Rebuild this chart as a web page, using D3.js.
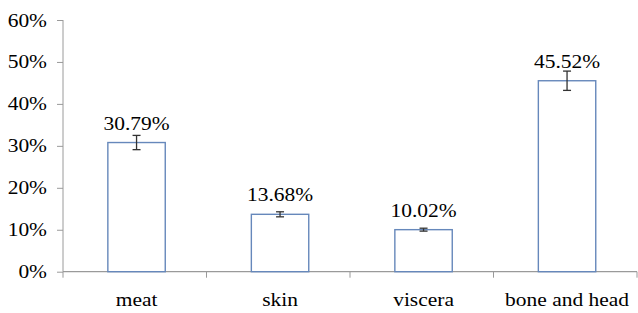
<!DOCTYPE html>
<html>
<head>
<meta charset="utf-8">
<script src="https://cdn.jsdelivr.net/npm/d3@7"></script>
<style>
  body { margin: 0; background: #fff; }
  svg { display: block; }
</style>
</head>
<body>
<svg id="chart"></svg>
<script>
'use strict';

// data
var categories = ['meat', 'skin', 'viscera', 'bone and head'];
var values     = [30.79, 13.68, 10.02, 45.52];
var errors     = [1.7, 0.6, 0.35, 2.3];
var yTicks     = [0, 10, 20, 30, 40, 50, 60];

// chart size
var W = 638, H = 313;
var margin = { top: 20, right: 1, bottom: 41.3, left: 63 };
var width  = W - margin.left - margin.right;
var height = H - margin.top - margin.bottom;
var sx = 1.13; // text is a little stretched sideways
var serif = "'Liberation Serif', 'Times New Roman', Times, serif";

var svg = d3.select('#chart')
  .attr('width', W)
  .attr('height', H)
  .append('g')
  .attr('transform', 'translate(' + margin.left + ',' + margin.top + ')');

// bars sit a touch right of the band centre in the original
var x = d3.scaleBand().domain(categories).range([1.8, width + 1.8]).paddingInner(0.6).paddingOuter(0.3);
var y = d3.scaleLinear().domain([0, 60]).range([height, 0]);

var axisColor = '#9a9a9a';

function label(sel){
  return sel.style('font-family', serif).style('font-size', '19px').attr('fill', '#000');
}

// y axis
var yAxis = svg.append('g')
  .call(d3.axisLeft(y).tickValues(yTicks).tickSize(6).tickPadding(0).tickFormat(function(d){ return ''; }));
yAxis.selectAll('path, line').attr('stroke', axisColor);
yAxis.select('.domain').attr('d', 'M0,0V' + height);
yTicks.forEach(function(t){
  svg.append('text')
    .attr('transform', 'translate(-16,' + (y(t) + 6.5) + ') scale(' + sx + ',1)')
    .attr('text-anchor', 'end')
    .call(label)
    .text(t + '%');
});

// x axis with ticks between categories
var step = width / categories.length;
var xg = svg.append('g').attr('transform', 'translate(0,' + height + ')');
xg.append('line').attr('x1', 0).attr('x2', width).attr('stroke', axisColor).attr('stroke-width', 1.3);
d3.range(categories.length + 1).forEach(function(i){
  xg.append('line')
    .attr('x1', i * step).attr('x2', i * step)
    .attr('y1', 0).attr('y2', 6)
    .attr('stroke', axisColor);
});
categories.forEach(function(c){
  xg.append('text')
    .attr('transform', 'translate(' + (x(c) + x.bandwidth() / 2) + ',34.5) scale(' + sx + ',1)')
    .attr('text-anchor', 'middle')
    .call(label)
    .text(c);
});

// bars
var data = categories.map(function(c, i){ return { cat: c, v: values[i], e: errors[i] }; });

svg.selectAll('.bar').data(data).enter().append('rect')
  .attr('class', 'bar')
  .attr('x', function(d){ return x(d.cat); })
  .attr('y', function(d){ return y(d.v); })
  .attr('width', x.bandwidth())
  .attr('height', function(d){ return height - y(d.v); })
  .attr('fill', '#fff')
  .attr('stroke', '#6688bb')
  .attr('stroke-width', 1.4);

// error bars
var eb = svg.selectAll('.err').data(data).enter().append('g').attr('class', 'err')
  .attr('stroke', '#333').attr('stroke-width', 1.3);
eb.append('line')
  .attr('x1', function(d){ return x(d.cat) + x.bandwidth() / 2; })
  .attr('x2', function(d){ return x(d.cat) + x.bandwidth() / 2; })
  .attr('y1', function(d){ return y(d.v + d.e); })
  .attr('y2', function(d){ return y(d.v - d.e); });
[1, -1].forEach(function(s){
  eb.append('line')
    .attr('x1', function(d){ return x(d.cat) + x.bandwidth() / 2 - 4; })
    .attr('x2', function(d){ return x(d.cat) + x.bandwidth() / 2 + 4; })
    .attr('y1', function(d){ return y(d.v + s * d.e); })
    .attr('y2', function(d){ return y(d.v + s * d.e); });
});

// value labels
svg.selectAll('.val').data(data).enter().append('text')
  .attr('class', 'val')
  .attr('transform', function(d){
    return 'translate(' + (x(d.cat) + x.bandwidth() / 2) + ',' + (y(d.v) - 13) + ') scale(' + sx + ',1)';
  })
  .attr('text-anchor', 'middle')
  .call(label)
  .text(function(d){ return d.v.toFixed(2) + '%'; });
</script>
</body>
</html>
